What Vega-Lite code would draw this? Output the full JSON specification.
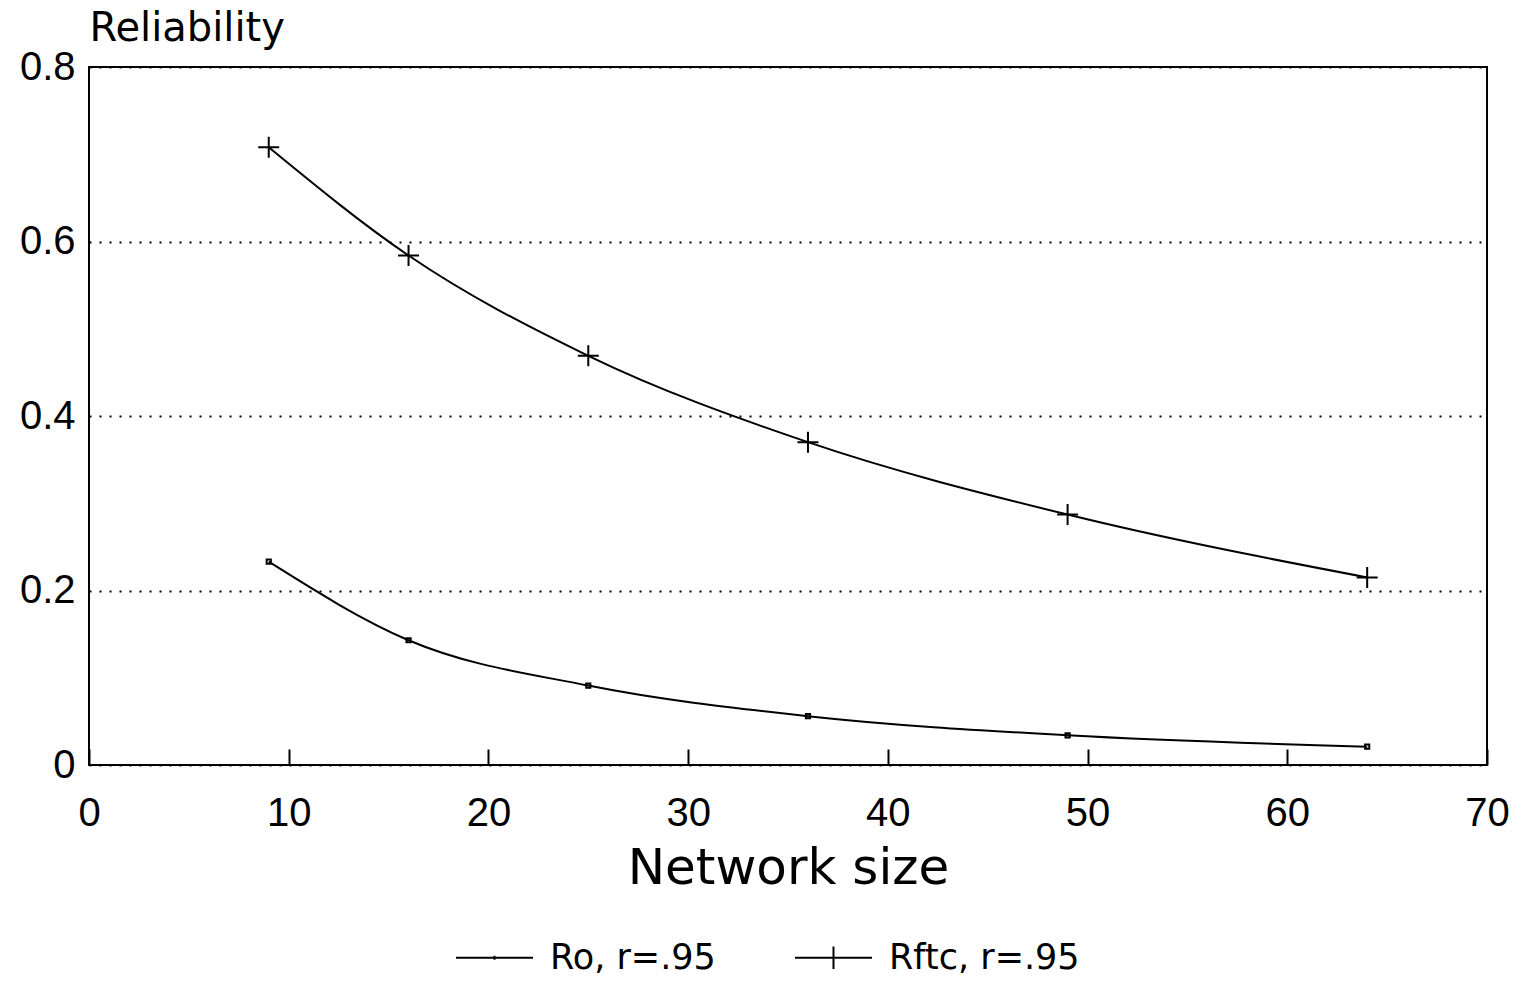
{
  "$schema": "https://vega.github.io/schema/vega-lite/v6.json",
  "autosize": {"type": "none"},
  "padding": {"left": 89, "top": 67, "right": 35, "bottom": 220},
  "width": 1398,
  "height": 698,
  "background": "white",
  "config": {
    "font": "DejaVu Sans",
    "view": {"stroke": "black", "strokeWidth": 2},
    "axis": {"labelColor": "black", "titleColor": "black", "labelFontWeight": "normal", "titleFontWeight": "normal"}
  },
  "data": {
    "values": [
      {"size": 9, "series": "Ro, r=.95", "r": 0.233},
      {"size": 16, "series": "Ro, r=.95", "r": 0.143},
      {"size": 25, "series": "Ro, r=.95", "r": 0.091},
      {"size": 36, "series": "Ro, r=.95", "r": 0.056},
      {"size": 49, "series": "Ro, r=.95", "r": 0.034},
      {"size": 64, "series": "Ro, r=.95", "r": 0.021},
      {"size": 9, "series": "Rftc, r=.95", "r": 0.708},
      {"size": 16, "series": "Rftc, r=.95", "r": 0.584},
      {"size": 25, "series": "Rftc, r=.95", "r": 0.469},
      {"size": 36, "series": "Rftc, r=.95", "r": 0.370},
      {"size": 49, "series": "Rftc, r=.95", "r": 0.287},
      {"size": 64, "series": "Rftc, r=.95", "r": 0.215}
    ]
  },
  "encoding": {
    "x": {
      "field": "size", "type": "quantitative",
      "scale": {"domain": [0, 70], "nice": false},
      "axis": {
        "values": [0, 10, 20, 30, 40, 50, 60, 70],
        "title": "Network size",
        "titleFontSize": 50, "titleFont": "DejaVu Sans", "titlePadding": 10,
        "labelFont": "Liberation Sans", "labelFontSize": 40, "labelPadding": 44,
        "tickSize": -16, "tickWidth": 2, "tickColor": "black",
        "domain": false, "grid": false,
        "labelFlush": false
      }
    },
    "y": {
      "field": "r", "type": "quantitative",
      "scale": {"domain": [0, 0.8], "nice": false},
      "axis": {
        "values": [0, 0.2, 0.4, 0.6, 0.8],
        "labelExpr": "datum.value == 0 ? '0' : format(datum.value, '.1f')",
        "title": "Reliability",
        "titleAngle": 0, "titleAlign": "left", "titleBaseline": "alphabetic",
        "titleX": 0, "titleY": -27, "titleFontSize": 40, "titleFont": "DejaVu Sans",
        "labelFont": "Liberation Sans", "labelFontSize": 40, "labelPadding": 14,
        "ticks": false, "domain": false,
        "grid": true, "gridColor": "black", "gridDash": [2, 8], "gridWidth": 2,
        "labelFlush": false
      }
    }
  },
  "layer": [
    {
      "mark": {"type": "line", "interpolate": "monotone", "color": "black", "strokeWidth": 2},
      "encoding": {"detail": {"field": "series"}}
    },
    {
      "mark": {"type": "point", "color": "black", "strokeWidth": 2, "opacity": 1},
      "encoding": {
        "shape": {
          "field": "series",
          "scale": {"domain": ["Ro, r=.95", "Rftc, r=.95"], "range": ["M-0.2,-0.2L0.2,-0.2L0.2,0.2L-0.2,0.2Z", "M-1,0L1,0M0,-1L0,1"]},
          "legend": null
        },
        "size": {"value": 440}
      }
    },
    {
      "mark": {"type": "point", "color": "black", "opacity": 0},
      "encoding": {
        "shape": {
          "field": "series",
          "scale": {"domain": ["Ro, r=.95", "Rftc, r=.95"], "range": ["M-1,0L1,0M0,-0.05L0,0.05", "M-1,0L1,0M0,-0.29L0,0.29"]},
          "legend": {
            "title": null,
            "orient": "none",
            "direction": "horizontal",
            "legendX": 366,
            "legendY": 851,
            "symbolSize": 5929,
            "symbolOpacity": 1,
            "symbolStrokeColor": "black",
            "symbolFillColor": "transparent",
            "symbolStrokeWidth": 2,
            "labelFont": "DejaVu Sans",
            "labelFontSize": 35,
            "labelLimit": 500,
            "labelColor": "black",
            "labelOffset": 16,
            "columnPadding": 75
          }
        }
      }
    }
  ],
  "resolve": {"scale": {"shape": "independent"}}
}
